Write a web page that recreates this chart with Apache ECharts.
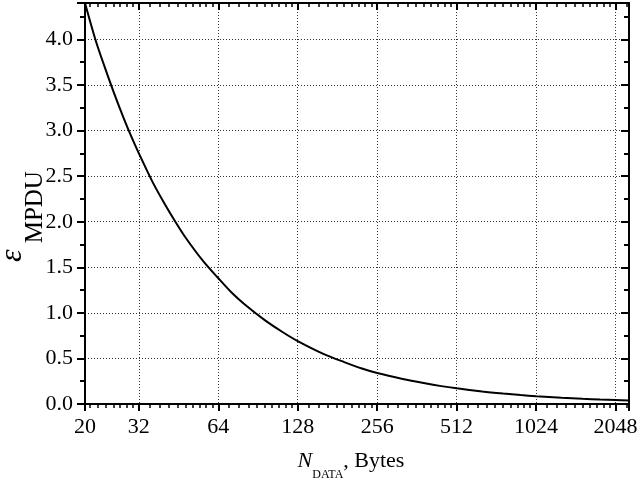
<!DOCTYPE html>
<html>
<head>
<meta charset="utf-8">
<script src="https://cdn.jsdelivr.net/npm/echarts@6/dist/echarts.min.js"></script>
<style>html,body{margin:0;padding:0;background:#fff}#c{width:640px;height:481px}</style>
</head>
<body>
<div id="c"></div>
<script>
// N_DATA (bytes) and epsilon_MPDU values
var nData = [20, 22, 24, 26, 28, 30, 32, 36, 40, 44, 48, 56, 64, 72, 80, 96, 112, 128, 160, 192, 224, 256, 320, 384, 448, 512, 640, 768, 896, 1024, 1280, 1536, 1792, 2048, 2304];
var epsMPDU = [4.40, 3.98, 3.66, 3.38, 3.14, 2.93, 2.75, 2.44, 2.20, 2.00, 1.83, 1.57, 1.38, 1.22, 1.10, 0.92, 0.79, 0.69, 0.55, 0.46, 0.39, 0.34, 0.275, 0.23, 0.196, 0.172, 0.138, 0.115, 0.098, 0.086, 0.069, 0.057, 0.049, 0.043, 0.038];
var xMin = 20, xMax = 2304;
var yMin = 0, yMax = 4.4, yStep = 0.5;

var FONT = '"Liberation Serif", "Times New Roman", serif';
var chart = echarts.init(document.getElementById('c'), null, {renderer: 'canvas'});
var pts = nData.map(function (n, i) { return [n, epsMPDU[i]]; });

var axisLine = {show: true, onZero: false, lineStyle: {color: '#000', width: 2}};
var splitLine = {show: true, lineStyle: {color: '#333', width: 1, type: [1, 2]}};

chart.setOption({
  animation: false,
  backgroundColor: '#fff',
  grid: {left: 85, right: 11, top: 3, bottom: 77, containLabel: false, outerBoundsMode: 'none'},
  xAxis: [{
    type: 'log', logBase: 2, min: xMin, max: xMax, position: 'bottom',
    axisLine: axisLine,
    axisTick: {show: true, inside: false, length: 7, lineStyle: {color: '#000', width: 2}},
    minorTick: {show: true, splitNumber: 10, length: 4, lineStyle: {color: '#000', width: 1.5}},
    splitLine: splitLine,
    axisLabel: {show: true, margin: 12, color: '#000', fontFamily: FONT, fontSize: 22, showMaxLabel: false,
      formatter: function (v) { return String(Math.round(v)); }},
    name: '{n|N}{s|DATA}{m|, Bytes}', nameLocation: 'middle', nameGap: 49, nameMoveOverlap: false,
    nameTextStyle: {color: '#000', fontFamily: FONT, padding: [0, 12, 0, 0],
      rich: {
        n: {fontFamily: FONT, fontStyle: 'italic', fontSize: 22, lineHeight: 24, padding: [0, 0, 7, 0], color: '#000'},
        s: {fontFamily: FONT, fontSize: 12, lineHeight: 12, padding: [19, 0, 0, 0], color: '#000'},
        m: {fontFamily: FONT, fontSize: 22, lineHeight: 24, padding: [0, 0, 7, 0], color: '#000'}
      }}
  }, {
    type: 'log', logBase: 2, min: xMin, max: xMax, position: 'top',
    axisLine: axisLine,
    axisTick: {show: true, inside: true, length: 7, lineStyle: {color: '#000', width: 2}},
    minorTick: {show: true, splitNumber: 10, length: 4, lineStyle: {color: '#000', width: 1.5}},
    splitLine: {show: false},
    axisLabel: {show: false}
  }],
  yAxis: [{
    type: 'value', min: yMin, max: yMax, interval: yStep, position: 'left',
    axisLine: axisLine,
    axisTick: {show: true, inside: false, length: 8, lineStyle: {color: '#000', width: 2}},
    minorTick: {show: true, splitNumber: 2, length: 5, lineStyle: {color: '#000', width: 2}},
    splitLine: splitLine,
    axisLabel: {show: true, margin: 12, color: '#000', fontFamily: FONT, fontSize: 22, showMaxLabel: false,
      formatter: function (v) { return v.toFixed(1); }},
    name: '{e|\u03B5}{s|MPDU}', nameLocation: 'middle', nameRotate: 90, nameGap: 45, nameMoveOverlap: false,
    nameTextStyle: {color: '#000', fontFamily: FONT, padding: [0, 26, 0, 0],
      rich: {
        e: {fontFamily: FONT, fontStyle: 'italic', fontSize: 32, lineHeight: 32, padding: [0, 6, 22, 0], color: '#000'},
        s: {fontFamily: FONT, fontSize: 25, lineHeight: 24, padding: [26, 0, 4, 0], color: '#000'}
      }}
  }, {
    type: 'value', min: yMin, max: yMax, interval: yStep, position: 'right',
    axisLine: axisLine,
    axisTick: {show: true, inside: true, length: 8, lineStyle: {color: '#000', width: 2}},
    minorTick: {show: true, splitNumber: 2, length: 5, lineStyle: {color: '#000', width: 2}},
    splitLine: {show: false},
    axisLabel: {show: false}
  }],
  series: [{
    type: 'line', xAxisIndex: 0, yAxisIndex: 0, data: pts,
    showSymbol: false, smooth: 0.3, clip: true,
    lineStyle: {color: '#000', width: 2}
  }]
});
</script>
</body>
</html>
